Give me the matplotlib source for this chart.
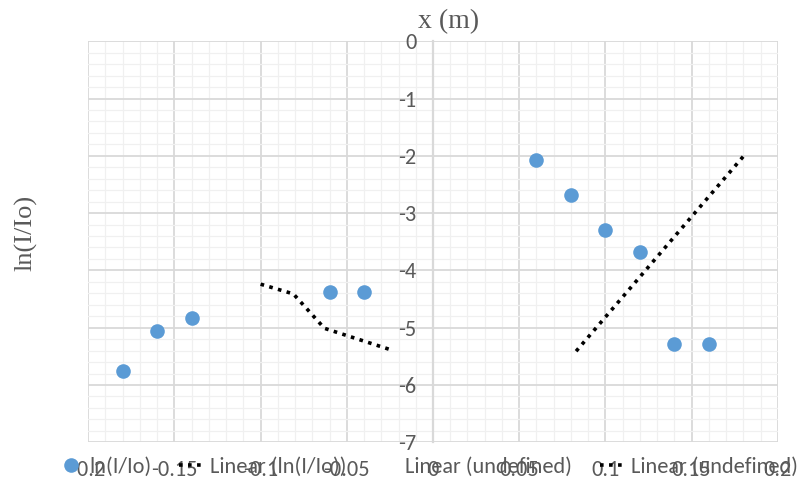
import matplotlib
matplotlib.use("Agg")
import matplotlib.pyplot as plt
from matplotlib.lines import Line2D
import numpy as np

# data
x_pts = [-0.18, -0.16, -0.14, -0.06, -0.04, 0.06, 0.08, 0.10, 0.12, 0.14, 0.16]
y_pts = [-5.75, -5.06, -4.83, -4.38, -4.38, -2.07, -2.68, -3.30, -3.68, -5.29, -5.29]

trend1_x = [-0.100, -0.081, -0.063, -0.023]
trend1_y = [-4.24, -4.41, -5.01, -5.40]

trend2_x = [0.083, 0.180]
trend2_y = [-5.41, -2.01]

x_ticks = [-0.2, -0.15, -0.1, -0.05, 0, 0.05, 0.1, 0.15, 0.2]
x_tick_labels = ["-0.2", "-0.15", "-0.1", "-0.05", "0", "0.05", "0.1", "0.15", "0.2"]
y_ticks = [0, -1, -2, -3, -4, -5, -6, -7]
y_tick_labels = ["0", "-1", "-2", "-3", "-4", "-5", "-6", "-7"]

legend_labels = ["ln(I/Io)", "Linear (ln(I/Io))", "Linear (undefined)", "Linear (undefined)"]

sans = ["Carlito", "Lato", "DejaVu Sans"]
serif = ["Liberation Serif", "DejaVu Serif"]
gray = "#595959"
blue = "#5B9BD5"

fig = plt.figure(figsize=(7.99, 4.86), dpi=100)
ax = fig.add_axes([0.1104, 0.0899, 0.8631, 0.8253])

ax.set_xlim(-0.2, 0.2)
ax.set_ylim(-7, 0)

# grid
ax.set_xticks(x_ticks)
ax.set_xticks(np.arange(-0.2, 0.2001, 0.01), minor=True)
ax.set_yticks(y_ticks)
ax.set_yticks(np.arange(-7, 0.001, 0.2), minor=True)
ax.grid(which="major", color="#D9D9D9", linewidth=1.3, zorder=0)
ax.grid(which="minor", color="#F0F0F0", linewidth=0.9, zorder=0)
ax.set_axisbelow(True)

for s in ["top", "right", "bottom"]:
    ax.spines[s].set_visible(False)
ax.spines["left"].set_position(("data", 0))
ax.spines["left"].set_color("#D9D9D9")
ax.spines["left"].set_linewidth(1.6)

ax.set_xticklabels(x_tick_labels, fontsize=16, color=gray, family=sans)
ax.set_yticklabels(y_tick_labels, fontsize=16, color=gray, family=sans)
ax.tick_params(which="both", length=0)
ax.tick_params(axis="x", pad=13)
ax.tick_params(axis="y", pad=12)

# series
ax.plot(x_pts, y_pts, linestyle="none", marker="o", markersize=10.5,
        color=blue, markeredgewidth=0, zorder=3)
dotted = (0, (1, 1.5))
ax.plot(trend1_x, trend1_y, color="black", linewidth=2.6, linestyle=dotted,
        dash_capstyle="butt", zorder=2)
ax.plot(trend2_x, trend2_y, color="black", linewidth=2.6, linestyle=dotted,
        dash_capstyle="butt", zorder=2)

# axis titles
ax.xaxis.set_label_position("top")
ax.set_xlabel("x (m)", fontsize=20, color=gray, family=serif)
ax.xaxis.set_label_coords(0.523, 1.048)
ax.xaxis.label.set_va("center")
ax.set_ylabel("ln(I/Io)", fontsize=19, color=gray, family=serif)
ax.yaxis.set_label_coords(-0.074, 0.522)

# legend
handles = [
    Line2D([], [], linestyle="none", marker="o", markersize=10.5, color=blue, markeredgewidth=0),
    Line2D([], [], color="black", linewidth=2.6, linestyle=dotted, dash_capstyle="butt"),
    Line2D([], [], color="none"),
    Line2D([], [], color="black", linewidth=2.6, linestyle=dotted, dash_capstyle="butt"),
]
leg = fig.legend(handles, legend_labels, loc="center", ncol=4, frameon=False,
                 bbox_to_anchor=(428 / 799, 1 - 467 / 486),
                 prop={"family": sans, "size": 16},
                 handlelength=1.2, handletextpad=0.2, columnspacing=1.25,
                 borderpad=0, borderaxespad=0)
for t in leg.get_texts():
    t.set_color(gray)

fig.savefig("out.png", dpi=100)
